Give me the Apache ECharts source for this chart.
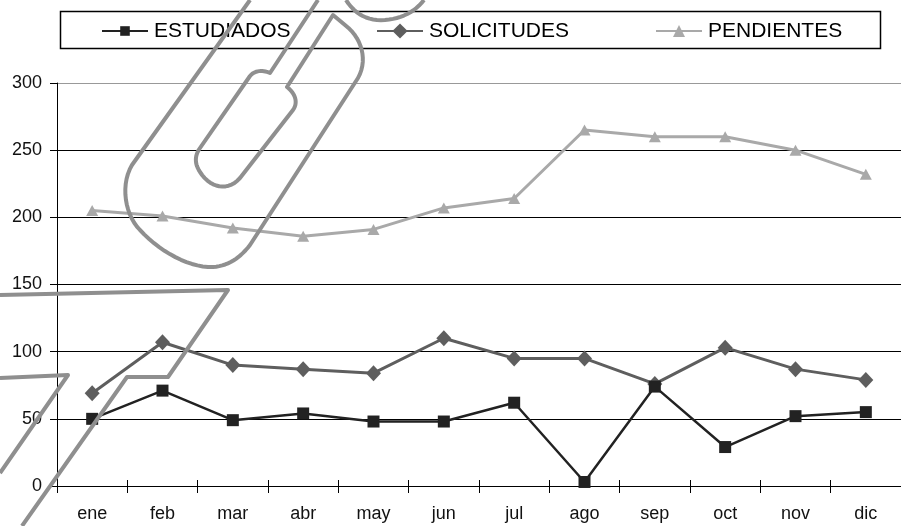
<!DOCTYPE html>
<html>
<head>
<meta charset="utf-8">
<script src="https://cdn.jsdelivr.net/npm/echarts@6/dist/echarts.min.js"></script>
<style>
html,body{margin:0;padding:0;background:#fff;}
#chart{width:901px;height:526px;}
</style>
</head>
<body>
<div id="chart"></div>
<script>
// ---- data ----
const categories = ['ene','feb','mar','abr','may','jun','jul','ago','sep','oct','nov','dic'];
const estudiados = [50, 71, 49, 54, 48, 48, 62, 3, 74, 29, 52, 55];
const solicitudes = [69, 107, 90, 87, 84, 110, 95, 95, 76, 103, 87, 79];
const pendientes = [205, 201, 192, 186, 191, 207, 214, 265, 260, 260, 250, 232];
const seriesNames = ['ESTUDIADOS', 'SOLICITUDES', 'PENDIENTES'];
const yTicks = [0, 50, 100, 150, 200, 250, 300];

// ---- decorative scan watermark (not data) ----
const watermarkPaths = [
  'M 250 0 L 132 165 C 120 185 125 215 140 230 C 160 252 190 268 213 267 C 228 266 240 258 250 245 L 358 78 C 368 60 362 38 345 25 L 333 15 L 287 87 C 296 94 298 103 293 110 L 240 178 C 228 192 210 188 200 172 C 194 163 195 155 200 148 L 250 76 C 255 70 263 70 270 73 L 318 0',
  'M 346 0 Q 360 22 385 20 Q 410 18 424 0',
  'M 0 295 L 228 290 L 168 377 L 127 377 L 22 526',
  'M 0 378 L 68 375 L 0 473'
];

function pathToPoints(d) {
  const t = d.trim().split(/\s+/);
  const pts = [];
  let i = 0, cx = 0, cy = 0;
  while (i < t.length) {
    const cmd = t[i++];
    if (cmd === 'M' || cmd === 'L') {
      cx = +t[i++]; cy = +t[i++]; pts.push([cx, cy]);
    } else if (cmd === 'Q') {
      const x1 = +t[i++], y1 = +t[i++], x2 = +t[i++], y2 = +t[i++];
      for (let s = 1; s <= 12; s++) {
        const u = s / 12, v = 1 - u;
        pts.push([v*v*cx + 2*v*u*x1 + u*u*x2, v*v*cy + 2*v*u*y1 + u*u*y2]);
      }
      cx = x2; cy = y2;
    } else if (cmd === 'C') {
      const x1 = +t[i++], y1 = +t[i++], x2 = +t[i++], y2 = +t[i++], x3 = +t[i++], y3 = +t[i++];
      for (let s = 1; s <= 14; s++) {
        const u = s / 14, v = 1 - u;
        pts.push([v*v*v*cx + 3*v*v*u*x1 + 3*v*u*u*x2 + u*u*u*x3,
                  v*v*v*cy + 3*v*v*u*y1 + 3*v*u*u*y2 + u*u*u*y3]);
      }
      cx = x3; cy = y3;
    }
  }
  return pts;
}

const FONT = "'Liberation Sans', Arial, sans-serif";
const chart = echarts.init(document.getElementById('chart'), null, {renderer: 'canvas'});

function legendAt(name, left, itemH) {
  return {
    data: [name], left: left, top: 19, padding: 0,
    itemWidth: 46, itemHeight: itemH, itemGap: 0,
    textStyle: {fontFamily: FONT, fontSize: 21, color: '#000', lineHeight: 24, padding: [0,0,0,1]},
    selectedMode: false
  };
}

chart.setOption({
  animation: false,
  backgroundColor: '#fff',
  legend: [legendAt(seriesNames[0], 101, 12), legendAt(seriesNames[1], 376, 19), legendAt(seriesNames[2], 655, 15)],
  grid: {left: 57, top: 83, width: 850, height: 403, containLabel: false},
  xAxis: [{
    type: 'category', data: categories, boundaryGap: true, position: 'bottom',
    axisLine: {lineStyle: {color: '#000', width: 1}},
    axisTick: {show: true, length: 7, lineStyle: {color: '#000'}},
    axisLabel: {fontFamily: FONT, fontSize: 18, color: '#111', margin: 19},
    splitLine: {show: false}
  }, {
    type: 'category', data: categories, boundaryGap: true, position: 'bottom', gridIndex: 0,
    axisLine: {show: false},
    axisTick: {show: true, inside: true, length: 6, lineStyle: {color: '#000'}},
    axisLabel: {show: false},
    splitLine: {show: false}
  }],
  yAxis: {
    type: 'value', min: yTicks[0], max: yTicks[yTicks.length - 1], interval: 50,
    axisLine: {show: true, lineStyle: {color: '#000', width: 1}},
    axisTick: {show: true, length: 7, lineStyle: {color: '#000'}},
    axisLabel: {fontFamily: FONT, fontSize: 18, color: '#111', margin: 15},
    splitLine: {show: true, lineStyle: {color: ['#000','#000','#000','#000','#000','#000','#999'], width: 1}}
  },
  series: [
    {name: seriesNames[0], type: 'line', data: estudiados, z: 5,
     symbol: 'rect', symbolSize: 12,
     lineStyle: {color: '#222', width: 2.5}, itemStyle: {color: '#222'}},
    {name: seriesNames[1], type: 'line', data: solicitudes, z: 4,
     symbol: 'diamond', symbolSize: [15, 16],
     lineStyle: {color: '#5e5e5e', width: 3}, itemStyle: {color: '#5e5e5e'}},
    {name: seriesNames[2], type: 'line', data: pendientes, z: 3,
     symbol: 'triangle', symbolSize: [12, 11],
     lineStyle: {color: '#a9a9a9', width: 3}, itemStyle: {color: '#a9a9a9'}}
  ],
  graphic: [
    {type: 'rect', z: -1, silent: true,
     shape: {x: 60.5, y: 11.5, width: 820, height: 37},
     style: {fill: '#fff', stroke: '#000', lineWidth: 1.5}}
  ].concat(watermarkPaths.map(function (p) {
    return {type: 'polyline', z: 100, silent: true,
      shape: {points: pathToPoints(p)},
      style: {fill: null, stroke: '#8f8f8f', lineWidth: 4, lineJoin: 'round'}};
  }))
});
</script>
</body>
</html>
